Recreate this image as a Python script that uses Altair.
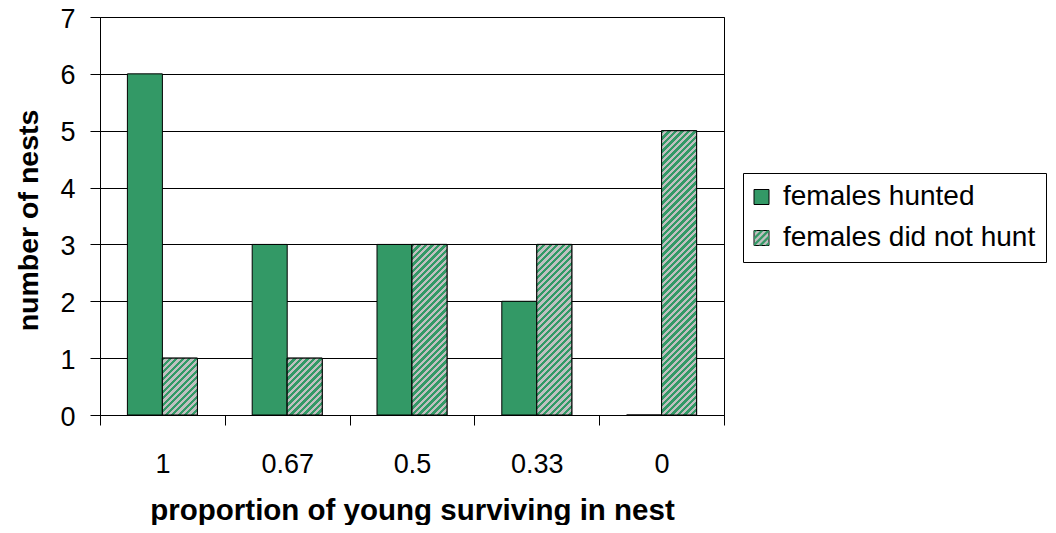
import math
import altair as alt
import pandas as pd

# ---- data ----
categories = ["1", "0.67", "0.5", "0.33", "0"]
hunted = [6, 3, 3, 2, 0]
did_not_hunt = [1, 1, 3, 3, 5]
series_names = ["females hunted", "females did not hunt"]

rows = []
for c, a, b in zip(categories, hunted, did_not_hunt):
    rows.append({"proportion": c, "series": series_names[0], "count": a})
    rows.append({"proportion": c, "series": series_names[1], "count": b})
df = pd.DataFrame(rows)

# ---- style ----
GREEN = "#339966"
GRAY = "#C0C0C0"
FONT = "Liberation Sans"
W, H = 624, 398
YMAX = 7
OFF_PAD = 0.783        # outer padding of the two-bar group inside each category
PERIOD = 6.5           # stripe period in px
LEG_SYM = 15           # legend square side in px

step = W / len(categories)
bar_w = step / (2 + 2 * OFF_PAD)


def hatch(w, h, period=PERIOD):
    """diagonal '/' stripes as a linear gradient in bounding-box units"""
    L = w + h
    half = period / 2
    n = int(math.ceil(L / half))
    stops = []
    for i in range(n):
        col = GREEN if i % 2 == 0 else GRAY
        o0 = min(i * half / L, 1)
        o1 = min((i + 1) * half / L, 1)
        stops.append({"offset": o0, "color": col})
        stops.append({"offset": o1, "color": col})
    s = L / (w * w + h * h)
    return {"gradient": "linear", "x1": 0, "y1": 0, "x2": w * s, "y2": h * s, "stops": stops}


hatch_conditions = []
for v in sorted(set(did_not_hunt)):
    if v > 0:
        hatch_conditions.append(
            {"test": f"datum['count'] == {v}", "value": hatch(bar_w, v * H / YMAX)}
        )


def clip(poly, f):
    out = []
    n = len(poly)
    for i in range(n):
        p, q = poly[i], poly[(i + 1) % n]
        fp, fq = f(p), f(q)
        if fp >= 0:
            out.append(p)
        if (fp >= 0) != (fq >= 0):
            t = fp / (fp - fq)
            out.append((p[0] + t * (q[0] - p[0]), p[1] + t * (q[1] - p[1])))
    return out


def stripe_path():
    """green '/' stripes inside the [-1,1] symbol square"""
    unit = 2.0 / LEG_SYM
    per = PERIOD * unit
    half = per / 2
    parts = []
    c = -2.0
    while c < 2.0:
        c0, c1 = c, min(c + half, 2.0)
        poly = [(-1, -1), (1, -1), (1, 1), (-1, 1)]
        poly = clip(poly, lambda p, c0=c0: p[0] + p[1] - c0)
        poly = clip(poly, lambda p, c1=c1: c1 - (p[0] + p[1]))
        if len(poly) >= 3:
            pts = " L".join(f"{x:.3f},{y:.3f}" for x, y in poly)
            parts.append("M" + pts + " Z")
        c += per
    return " ".join(parts)


legend_common = dict(
    title=None,
    orient="none",
    legendX=643,
    legendY=156,
    padding=10,
    labelFont=FONT,
    labelFontSize=28,
    labelOffset=7.5,
    symbolOffset={"expr": "-5.5"},
    labelLimit=500,
    symbolSize=LEG_SYM * LEG_SYM,
    rowPadding=13,
)

x_enc = alt.X(
    "proportion:N",
    sort=categories,
    scale=alt.Scale(paddingInner=0, paddingOuter=0),
    axis=alt.Axis(
        title="proportion of young surviving in nest",
        tickBand="extent",
        tickSize=10,
        labelPadding=47,
        labelBaseline="alphabetic",
        labelAngle=0,
        labelFontSize=27,
        titleFontSize=29.5,
        titleFontWeight="bold",
        titleBaseline="alphabetic",
        titleY=104,
        grid=False,
    ),
)
xo_enc = alt.XOffset(
    "series:N",
    sort=series_names,
    scale=alt.Scale(domain=series_names, paddingInner=0, paddingOuter=OFF_PAD),
)
y_enc = alt.Y(
    "count:Q",
    scale=alt.Scale(domain=[0, YMAX], nice=False),
    axis=alt.Axis(
        title="number of nests",
        values=list(range(YMAX + 1)),
        tickSize=10,
        labelPadding=15,
        labelOffset=2,
        labelFontSize=27,
        titleFontSize=28.5,
        titleFontWeight="bold",
        titleBaseline="alphabetic",
        titleX=-63,
        titleY=H / 2 + 4,
        grid=True,
    ),
)

base = alt.Chart(df).encode(x=x_enc, xOffset=xo_enc, y=y_enc)

# all bars, solid fills; provides the boxed legend
bars = base.mark_bar(stroke="black", strokeWidth=1).encode(
    fill=alt.Fill(
        "series:N",
        sort=series_names,
        scale=alt.Scale(domain=series_names, range=[GREEN, GRAY]),
        legend=alt.Legend(
            strokeColor="black",
            fillColor="white",
            labelColor="black",
            symbolType="square",
            symbolStrokeColor="black",
            symbolStrokeWidth=1,
            **legend_common,
        ),
    )
)

# hatched overlay for "did not hunt"
hatched = (
    base.transform_filter(alt.datum.series == series_names[1])
    .mark_bar(stroke="black", strokeWidth=1)
    .encode(fill={"condition": hatch_conditions, "value": GRAY})
)

# invisible marks that only supply the striped legend symbol overlay
sym_codes = ["sym_a", "sym_b"]
stripes_legend = (
    base.transform_calculate(
        sym=f"datum.series === '{series_names[0]}' ? '{sym_codes[0]}' : '{sym_codes[1]}'"
    )
    .mark_point(opacity=0, filled=True, fill=GREEN, strokeWidth=0)
    .encode(
        shape=alt.Shape(
            "sym:N",
            scale=alt.Scale(domain=sym_codes, range=["M0,0 L0,0 Z", stripe_path()]),
            legend=alt.Legend(
                labelOpacity=0,
                symbolOpacity=1,
                symbolFillColor=GREEN,
                symbolStrokeWidth=0,
                zindex=5,
                **legend_common,
            ),
        )
    )
)

chart = (
    alt.layer(bars, hatched, stripes_legend)
    .resolve_legend(fill="independent", shape="independent")
    .properties(
        width=W,
        height=H,
        autosize=alt.AutoSizeParams(type="none"),
        padding={"left": 92, "top": 9, "right": 324, "bottom": 110},
        background="white",
    )
    .configure_view(stroke="black", strokeWidth=1)
    .configure_axis(
        labelFont=FONT,
        titleFont=FONT,
        labelColor="black",
        titleColor="black",
        domainColor="black",
        tickColor="black",
        gridColor="black",
        gridOpacity=1,
        domainWidth=1,
        tickWidth=1,
        gridWidth=1,
    )
)

chart.save("out.html", embed_options={"renderer": "svg", "actions": False})
